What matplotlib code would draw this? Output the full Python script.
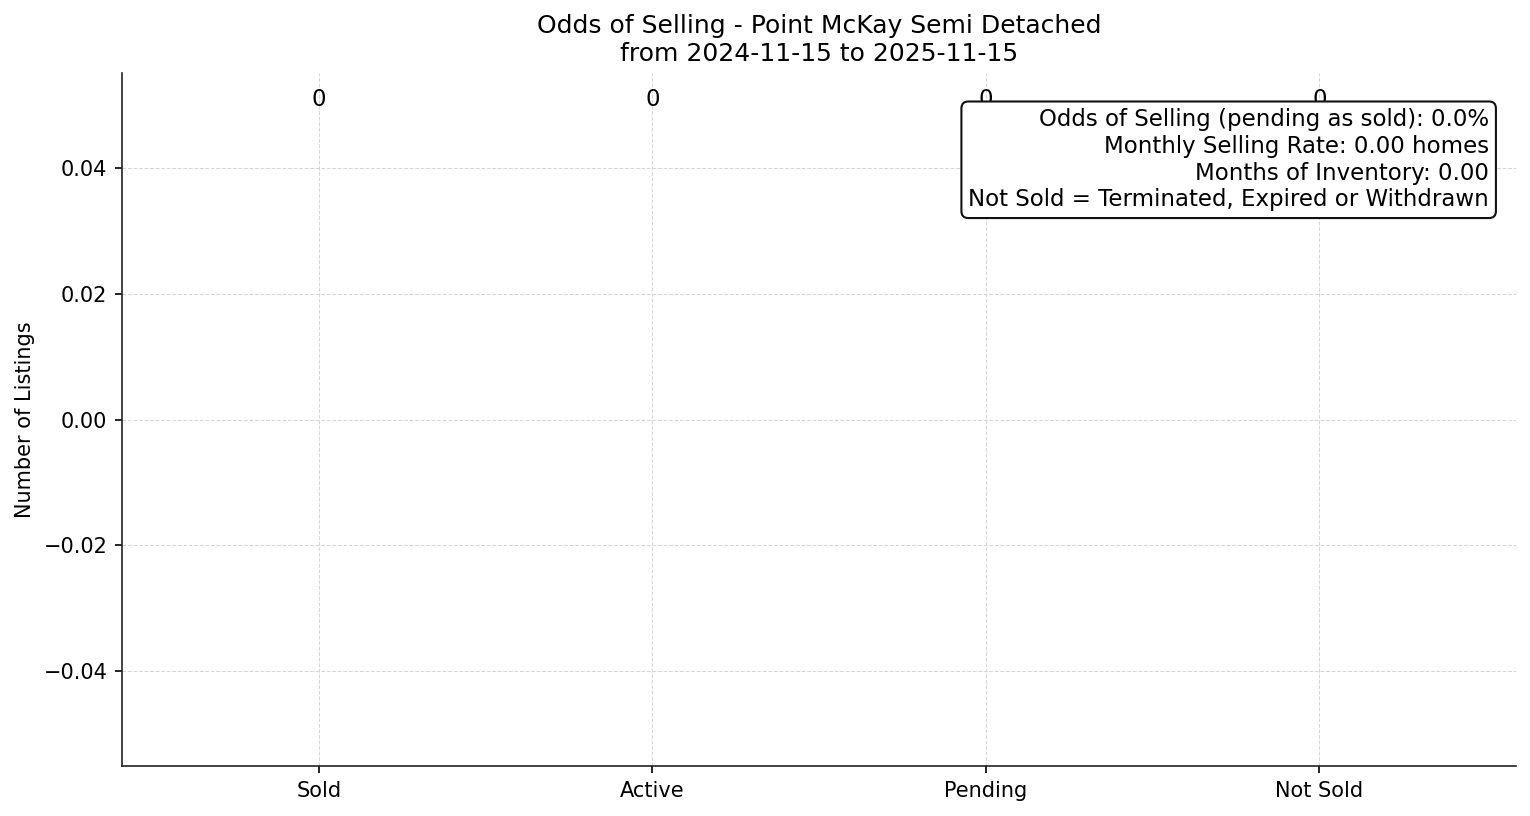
import matplotlib
matplotlib.use("Agg")
import matplotlib.pyplot as plt

# listing counts per status
categories = ["Sold", "Active", "Pending", "Not Sold"]
counts = [0, 0, 0, 0]

area = "Point McKay Semi Detached"
start_date = "2024-11-15"
end_date = "2025-11-15"
odds_pct = 0.0
monthly_rate = 0.00
months_inventory = 0.00

fig, ax = plt.subplots(figsize=(10.2, 5.44), dpi=150)
bars = ax.bar(categories, counts, color="#4c72b0")

# count labels near the top of the plot
for i, v in enumerate(counts):
    ax.text(i, 0.962, str(v), transform=ax.get_xaxis_transform(),
            ha="center", va="center", fontsize=11)

ax.set_title(f"Odds of Selling - {area}\nfrom {start_date} to {end_date}", fontsize=12)
ax.set_ylabel("Number of Listings")
ax.grid(True, linestyle="--", linewidth=0.5, color="#cccccc", alpha=0.8)
ax.set_axisbelow(True)
ax.spines["top"].set_visible(False)
ax.spines["right"].set_visible(False)
for s in ("left", "bottom"):
    ax.spines[s].set_color("#222222")

info = (f"Odds of Selling (pending as sold): {odds_pct:.1f}%\n"
        f"Monthly Selling Rate: {monthly_rate:.2f} homes\n"
        f"Months of Inventory: {months_inventory:.2f}\n"
        "Not Sold = Terminated, Expired or Withdrawn")
ax.text(0.9805, 0.949, info, transform=ax.transAxes, ha="right", va="top",
        fontsize=11, multialignment="right",
        bbox=dict(boxstyle="round,pad=0.3", facecolor="white", edgecolor="#111111"))

fig.subplots_adjust(left=0.0797, right=0.991, top=0.9105, bottom=0.0613)
fig.savefig("out.png", dpi=150)
